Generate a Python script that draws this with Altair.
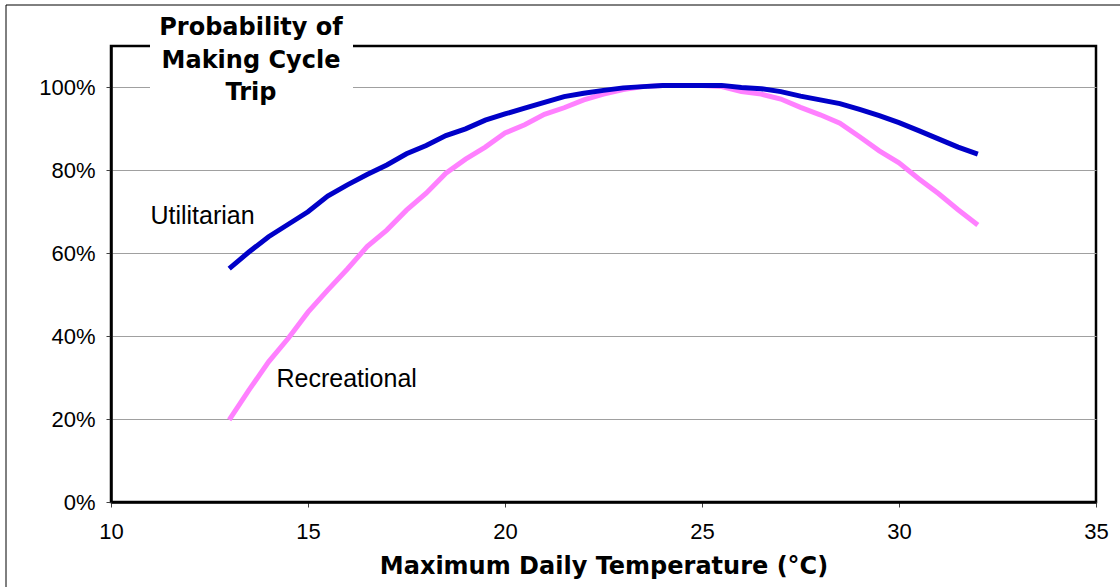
import altair as alt
import pandas as pd

# Maximum daily temperature (°C), half-degree steps
temps = [13.0, 13.5, 14.0, 14.5, 15.0, 15.5, 16.0, 16.5, 17.0, 17.5,
         18.0, 18.5, 19.0, 19.5, 20.0, 20.5, 21.0, 21.5, 22.0, 22.5,
         23.0, 23.5, 24.0, 24.5, 25.0, 25.5, 26.0, 26.5, 27.0, 27.5,
         28.0, 28.5, 29.0, 29.5, 30.0, 30.5, 31.0, 31.5, 32.0]

# Probability of making a cycle trip (%)
utilitarian = [56.3, 60.3, 64.0, 67.0, 70.0, 73.8, 76.5, 79.0, 81.3, 84.0,
               86.0, 88.4, 90.0, 92.1, 93.6, 95.0, 96.4, 97.8, 98.6, 99.3,
               99.9, 100.2, 100.5, 100.5, 100.5, 100.5, 100.0, 99.7, 99.0, 97.9,
               97.0, 96.1, 94.7, 93.2, 91.5, 89.6, 87.6, 85.6, 83.9]
recreational = [19.8, 27.0, 33.8, 39.5, 45.8, 51.1, 56.2, 61.6, 65.6, 70.4,
                74.5, 79.3, 82.7, 85.6, 89.0, 91.0, 93.5, 95.1, 97.0, 98.4,
                99.5, 100.2, 100.5, 100.5, 100.5, 100.2, 99.0, 98.4, 97.2, 95.2,
                93.4, 91.4, 88.1, 84.7, 81.8, 78.0, 74.4, 70.5, 66.8]

x_ticks = [10, 15, 20, 25, 30, 35]
y_ticks = [0, 0.2, 0.4, 0.6, 0.8, 1.0]

title_lines = ["Probability of", "Making Cycle", "Trip"]
x_title = "Maximum Daily Temperature (°C)"

# series labels placed next to their curves (temperature, probability)
labels = pd.DataFrame({
    "name": ["Utilitarian", "Recreational"],
    "t": [11.0, 14.2],
    "p": [0.671, 0.278],
})

util_df = pd.DataFrame({"t": temps, "p": [v / 100 for v in utilitarian]})
rec_df = pd.DataFrame({"t": temps, "p": [v / 100 for v in recreational]})

W, H = 985, 456
BLUE = "#0000C8"
PINK = "#FF80FF"

x_enc = alt.X("t:Q", scale=alt.Scale(domain=[10, 35], nice=False),
              axis=alt.Axis(values=x_ticks, title=x_title, grid=False, labelFlush=False,
                            titleY=71, titleBaseline="alphabetic"))
y_enc = alt.Y("p:Q", scale=alt.Scale(domain=[0, 1.1], nice=False),
              axis=alt.Axis(values=y_ticks, format=".0%", title=None, grid=True,
                            labelFlush=False))

frame = alt.Chart(pd.DataFrame({"k": [0]})).mark_rect(
    fill=None, stroke="black", strokeWidth=1, clip=False
).encode(x=alt.value(-105), x2=alt.value(1130), y=alt.value(-41), y2=alt.value(600))

rec_line = alt.Chart(rec_df).mark_line(color=PINK, strokeWidth=5).encode(x=x_enc, y=y_enc)
util_line = alt.Chart(util_df).mark_line(color=BLUE, strokeWidth=5).encode(x=x_enc, y=y_enc)

label_text = alt.Chart(labels).mark_text(
    align="left", baseline="alphabetic", font="Liberation Sans", fontSize=25, color="black"
).encode(x="t:Q", y="p:Q", text="name:N")

title_box = alt.Chart(pd.DataFrame({"k": [0]})).mark_rect(
    fill="white", stroke=None, clip=False
).encode(x=alt.value(39), x2=alt.value(242), y=alt.value(-34), y2=alt.value(64))

title_text = alt.Chart(pd.DataFrame({"k": [0]})).mark_text(
    align="center", baseline="alphabetic", font="DejaVu Sans", fontWeight="bold",
    fontSize=24, lineHeight=32.5, color="black", clip=False
).encode(x=alt.value(140), y=alt.value(-11), text=alt.value(title_lines))

chart = alt.layer(
    frame, rec_line, util_line, label_text, title_box, title_text
).properties(
    width=W, height=H,
    autosize=alt.AutoSizeParams(type="none"),
    padding={"left": 111, "top": 46, "right": 24, "bottom": 85},
).configure_view(
    stroke="black", strokeWidth=2.5
).configure_axis(
    labelFont="Liberation Sans", labelFontSize=22, labelColor="black",
    tickColor="#404040", tickSize=5, tickWidth=1,
    domainColor="black", domainWidth=2.5,
    gridColor="#A0A0A0", gridWidth=1,
    titleFont="DejaVu Sans", titleFontWeight="bold", titleFontSize=24, titleColor="black",
).configure_axisY(
    labelPadding=11
).configure_axisX(
    labelPadding=14
)

chart.save("out.html", embed_options={"renderer": "svg", "actions": False})
